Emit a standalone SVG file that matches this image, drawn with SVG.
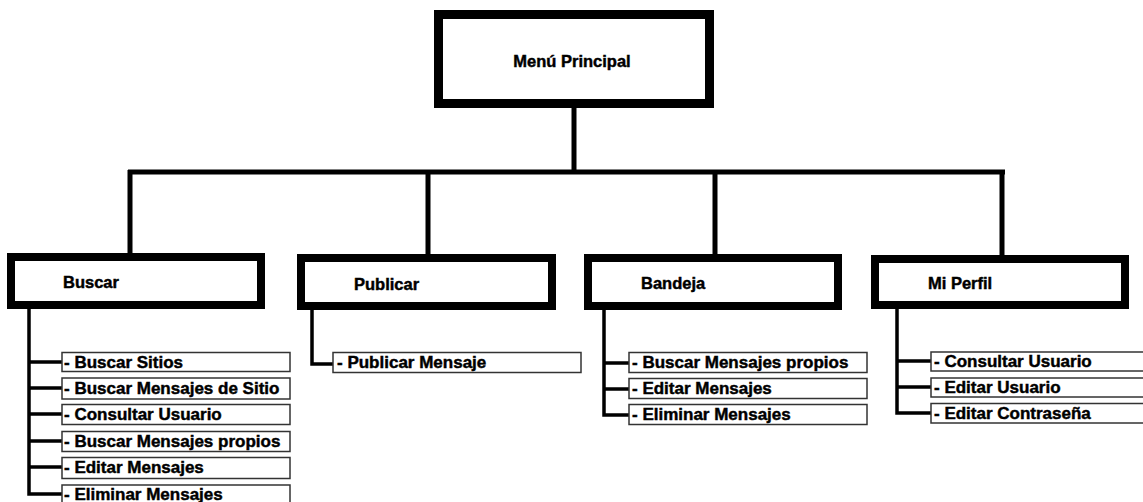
<svg xmlns="http://www.w3.org/2000/svg" width="1143" height="502" viewBox="0 0 1143 502">
<style>
.big{fill:#fff;stroke:#000;stroke-width:9}
.mid{fill:#fff;stroke:#000;stroke-width:8}
.sub{fill:#fff;stroke:#333;stroke-width:1.5}
.t{font-family:"Liberation Sans",Arial,sans-serif;font-weight:bold;fill:#000;stroke:#000;stroke-width:0.45}
.h{font-size:16.5px}
.s{font-size:17px}
.c{fill:none;stroke:#000;stroke-linejoin:miter;stroke-linecap:butt}
.c1{stroke-width:5}
.c2{stroke-width:3.5}
</style>
<rect width="1143" height="502" fill="#fff"/>
<g id="connectors">
<path class="c c1" d="M574,106 V172 M128,172 H1005 M130,170 V253 M428,170 V254 M715,170 V254 M1002,170 V255"/>
<path class="c c2" d="M29,309 V494 H62 M29,362 H62 M29,388 H62 M29,414 H62 M29,441 H62 M29,467 H62"/>
<path class="c c2" d="M312,310 V364 H333"/>
<path class="c c2" d="M604,310 V415 H629 M604,363 H629 M604,389 H629"/>
<path class="c c2" d="M897,309 V413 H931 M897,361 H931 M897,387 H931"/>
</g>
<g id="menu-principal">
<rect class="big" x="438.5" y="14.5" width="271" height="89"/>
<text class="t h" x="572" y="67" text-anchor="middle">Menú Principal</text>
</g>
<g id="buscar">
<rect class="mid" x="11" y="257" width="250" height="48"/>
<text class="t h" x="63" y="288">Buscar</text>
</g>
<g id="publicar">
<rect class="mid" x="301" y="258" width="251" height="48"/>
<text class="t h" x="354" y="290">Publicar</text>
</g>
<g id="bandeja">
<rect class="mid" x="588" y="258" width="250" height="48"/>
<text class="t h" x="641" y="289">Bandeja</text>
</g>
<g id="mi-perfil">
<rect class="mid" x="875" y="259" width="250" height="46"/>
<text class="t h" x="928" y="289">Mi Perfil</text>
</g>
<g id="buscar-items">
<g id="buscar-sitios"><rect class="sub" x="62" y="352.5" width="228" height="19"/><text class="t s" x="64" y="368">- Buscar Sitios</text></g>
<g id="buscar-mensajes-sitio"><rect class="sub" x="62" y="378" width="228" height="21"/><text class="t s" x="64" y="394">- Buscar Mensajes de Sitio</text></g>
<g id="buscar-consultar-usuario"><rect class="sub" x="62" y="404.5" width="228" height="20"/><text class="t s" x="64" y="420">- Consultar Usuario</text></g>
<g id="buscar-mensajes-propios"><rect class="sub" x="62" y="431.5" width="228" height="20"/><text class="t s" x="64" y="447">- Buscar Mensajes propios</text></g>
<g id="buscar-editar-mensajes"><rect class="sub" x="62" y="457.5" width="228" height="21"/><text class="t s" x="64" y="473">- Editar Mensajes</text></g>
<g id="buscar-eliminar-mensajes"><rect class="sub" x="62" y="485" width="228" height="21"/><text class="t s" x="64" y="500">- Eliminar Mensajes</text></g>
</g>
<g id="publicar-items">
<g id="publicar-mensaje"><rect class="sub" x="333" y="352.5" width="248" height="20"/><text class="t s" x="337" y="368">- Publicar Mensaje</text></g>
</g>
<g id="bandeja-items">
<g id="bandeja-buscar"><rect class="sub" x="629" y="352.5" width="238" height="20"/><text class="t s" x="632" y="368">- Buscar Mensajes propios</text></g>
<g id="bandeja-editar"><rect class="sub" x="629" y="378.5" width="238" height="20"/><text class="t s" x="632" y="394">- Editar Mensajes</text></g>
<g id="bandeja-eliminar"><rect class="sub" x="629" y="404.5" width="238" height="20"/><text class="t s" x="632" y="420">- Eliminar Mensajes</text></g>
</g>
<g id="perfil-items">
<g id="perfil-consultar"><rect class="sub" x="931" y="352" width="220" height="19"/><text class="t s" x="934" y="367">- Consultar Usuario</text></g>
<g id="perfil-editar-usuario"><rect class="sub" x="931" y="378" width="220" height="19"/><text class="t s" x="934" y="393">- Editar Usuario</text></g>
<g id="perfil-editar-contrasena"><rect class="sub" x="931" y="403.5" width="220" height="19.5"/><text class="t s" x="934" y="419">- Editar Contraseña</text></g>
</g>
</svg>
